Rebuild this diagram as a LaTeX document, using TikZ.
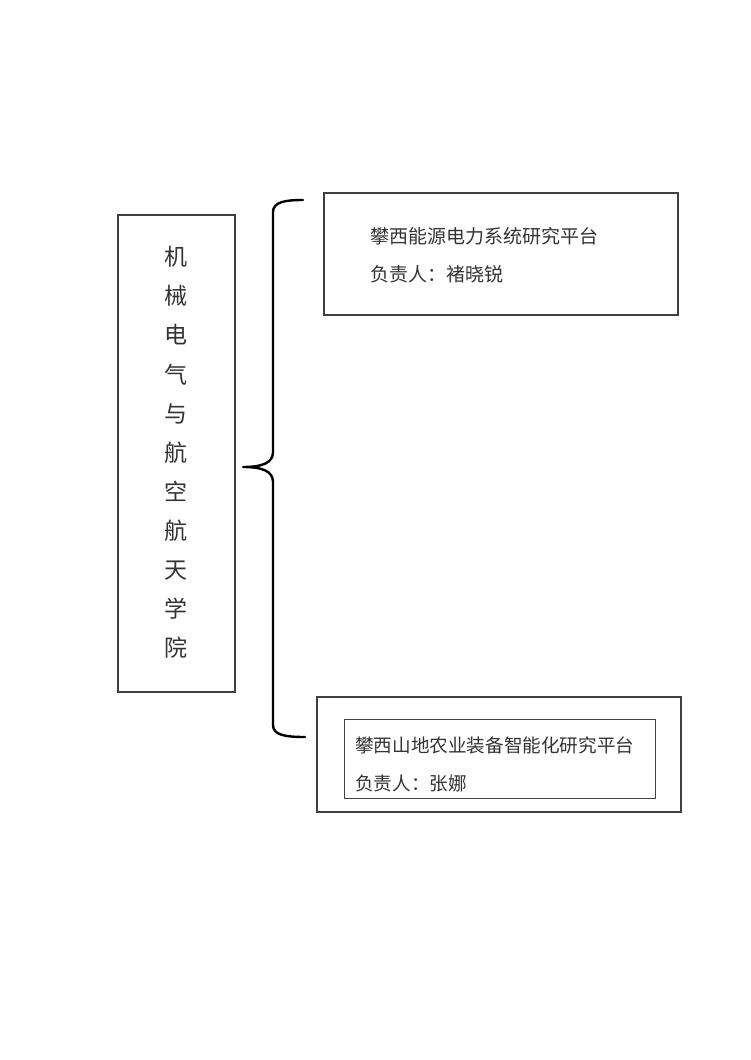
\documentclass[tikz,border=0pt]{standalone}
\usepackage{fontspec}
\newfontfamily\cjk{Noto Sans CJK SC}
\begin{document}
\begin{tikzpicture}[x=1pt,y=-1pt,
  frame/.style={draw=black!75, line width=1.2pt},
  txt/.style={text=black!80, font=\cjk\fontsize{19}{19}\selectfont, anchor=west, inner sep=0pt},
  txtb/.style={txt, font=\cjk\fontsize{18.6}{18.6}\selectfont},
  vtxt/.style={text=black!80, font=\cjk\fontsize{23}{39.1}\selectfont, align=center, inner sep=0pt},
  bracestyle/.style={draw=black, line width=2.4pt, line cap=round}]
\useasboundingbox (0,0) rectangle (750,1060);
\fill[white] (0,0) rectangle (750,1060);
% left box
\draw[frame] (118,215) rectangle (235,692);
\node[vtxt] (college) at (176,452.5) {机\\械\\电\\气\\与\\航\\空\\航\\天\\学\\院};
% top box
\draw[frame] (324,193) rectangle (678,315);
\node[txt] (p1) at (370,236) {攀西能源电力系统研究平台};
\node[txt] (p1h) at (370,274) {负责人：褚晓锐};
% bottom box
\draw[frame] (317,697) rectangle (681,812);
\draw[frame, line width=1pt] (344,719) rectangle (655,798);
\node[txtb] (p2) at (355,745) {攀西山地农业装备智能化研究平台};
\node[txtb] (p2h) at (355,783) {负责人：张娜};
% brace
\coordinate (btop) at (303,200);
\coordinate (bmid) at (243,467);
\coordinate (bbot) at (305,737);
\draw[bracestyle] (btop) .. controls (285,200) and (273,202) .. (273,212)
  -- (273,452) .. controls (273,463) and (262,467) .. (bmid)
  (bmid) .. controls (262,467) and (273,471) .. (273,482)
  -- (273,725) .. controls (273,735) and (285,737) .. (bbot);
\end{tikzpicture}
\end{document}
